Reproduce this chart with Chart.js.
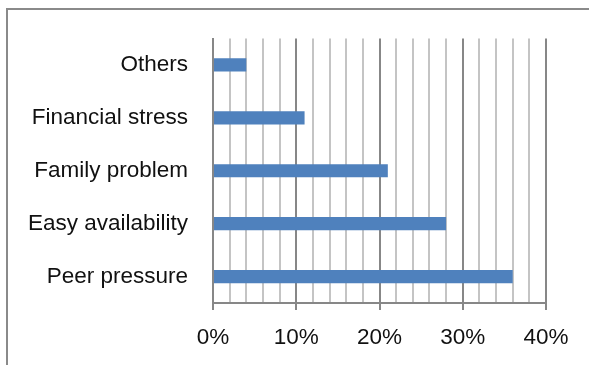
<!DOCTYPE html>
<html>
<head>
<meta charset="utf-8">
<script src="https://cdn.jsdelivr.net/npm/chart.js@4"></script>
<style>
  html, body { margin: 0; padding: 0; background: #fff; overflow: hidden; }
  #wrap { position: relative; width: 589px; height: 365px; }
  #frame { position: absolute; left: 6px; top: 8px; width: 700px; height: 500px; border: 2px solid #8a8a8a; box-sizing: border-box; }
  canvas { position: absolute; left: 0; top: 0; }
</style>
</head>
<body>
<div id="wrap">
  <div id="frame"></div>
  <canvas id="c" width="589" height="365"></canvas>
</div>
<script>
const categories = ["Others", "Financial stress", "Family problem", "Easy availability", "Peer pressure"];
const values = [0.04, 0.11, 0.21, 0.28, 0.36];
const tickLabels = ["0%", "10%", "20%", "30%", "40%"];
const xMin = 0, xMax = 0.4, minorStep = 0.02, majorStep = 0.1;

function isMajor(v) {
  return Math.abs(v / majorStep - Math.round(v / majorStep)) < 1e-6;
}

const FONT = { family: "'Liberation Sans', Arial, sans-serif", size: 22.5 };

new Chart(document.getElementById('c'), {
  type: 'bar',
  data: {
    labels: categories,
    datasets: [{
      data: values,
      backgroundColor: '#4F81BD',
      borderWidth: 0,
      categoryPercentage: 1,
      barPercentage: 0.25
    }]
  },
  options: {
    indexAxis: 'y',
    responsive: false,
    animation: false,
    devicePixelRatio: 1,
    layout: { padding: { top: 38, right: 43, left: 0, bottom: 0 } },
    plugins: { legend: { display: false }, tooltip: { enabled: false } },
    scales: {
      x: {
        min: xMin, max: xMax,
        ticks: {
          stepSize: minorStep,
          autoSkip: false,
          maxRotation: 0,
          padding: 14,
          color: '#111',
          font: FONT,
          callback: (v) => isMajor(v) ? tickLabels[Math.round(v / majorStep)] : ''
        },
        grid: {
          color: (ctx) => isMajor(ctx.tick ? ctx.tick.value : 0) ? '#878787' : '#c4c4c4',
          lineWidth: 2,
          tickLength: 7,
          tickColor: (ctx) => isMajor(ctx.tick ? ctx.tick.value : 0) ? '#878787' : 'rgba(0,0,0,0)'
        },
        border: { display: true, color: '#878787', width: 2 },
        afterFit: (s) => { s.height = 62; }
      },
      y: {
        ticks: { padding: 25, color: '#111', font: FONT },
        grid: { display: false, drawTicks: false },
        border: { display: true, color: '#878787', width: 2 },
        afterFit: (s) => { s.width = 213; }
      }
    }
  }
});
</script>
</body>
</html>
